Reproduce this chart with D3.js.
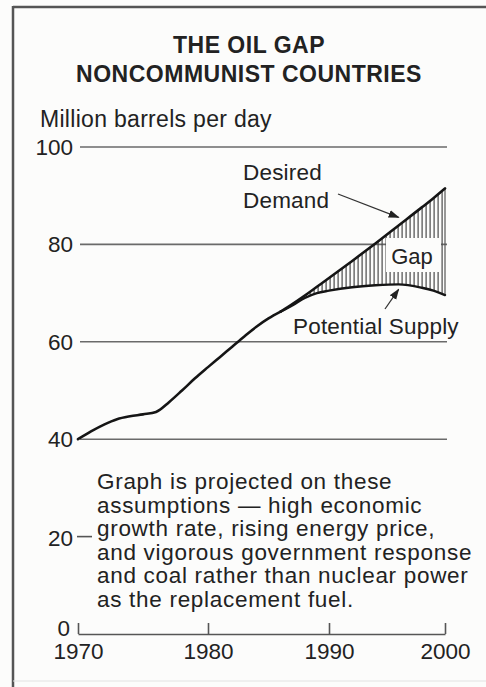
<!DOCTYPE html>
<html><head><meta charset="utf-8">
<script src="https://cdn.jsdelivr.net/npm/d3@7"></script>
<style>html,body{margin:0;padding:0;background:#fcfcfb;} svg{display:block;}</style>
</head><body><svg id="c" width="486" height="687"></svg>
<script>
// ---- data ----
const titleLines = ["THE OIL GAP", "NONCOMMUNIST COUNTRIES"];
const unitLabel = "Million barrels per day";
const yTicks = [0, 20, 40, 60, 80, 100];
const gridValues = [40, 60, 80, 100];
const xTicks = [1970, 1980, 1990, 2000];
const baseYears  = [1970,1971,1972,1973,1974,1975,1976,1977,1978,1979,1980,1981,1982,1983,1984,1985,1986];
const baseValues = [40.0,41.6,43.0,44.1,44.7,45.1,45.6,47.6,50.0,52.5,54.8,56.9,59.0,61.1,63.1,64.8,66.2];
const projYears    = [1986,1987,1988,1989,1990,1992,1994,1996,1998,1999,2000];
const demandValues = [66.2,67.8,69.5,71.3,73.1,76.6,80.2,83.9,87.6,89.5,91.5];
const supplyValues = [66.2,67.5,69.0,70.0,70.5,71.2,71.6,71.8,71.1,70.5,69.6];
const demandLabel = ["Desired", "Demand"];
const supplyLabel = "Potential Supply";
const gapLabel = "Gap";
const noteLines = [
  "Graph is projected on these",
  "assumptions \u2014 high economic",
  "growth rate, rising energy price,",
  "and vigorous government response",
  "and coal rather than nuclear power",
  "as the replacement fuel."
];

// ---- drawing ----
const svg = d3.select("#c");
const FONT = "'Liberation Sans', Arial, Helvetica, sans-serif";
const INK = "#222";
const x = d3.scaleLinear().domain([1970, 1980, 1990, 2000]).range([78, 208, 329, 445]);
const y = d3.scaleLinear().domain([0, 100]).range([634, 147]);

// frame
svg.append("line").attr("x1", 13).attr("x2", 486).attr("y1", 7).attr("y2", 7)
  .attr("stroke", "#555").attr("stroke-width", 2.5);
svg.append("line").attr("x1", 13).attr("x2", 13).attr("y1", 6).attr("y2", 687)
  .attr("stroke", "#555").attr("stroke-width", 2.5);
svg.append("line").attr("x1", 13).attr("x2", 486).attr("y1", 681).attr("y2", 681)
  .attr("stroke", "#e2e2e2").attr("stroke-width", 1);

// title
svg.append("g").selectAll("text").data(titleLines).join("text")
  .attr("x", 249).attr("y", (d, i) => 53 + i * 29)
  .attr("text-anchor", "middle")
  .attr("font-family", FONT).attr("font-weight", "bold").attr("font-size", 23)
  .attr("letter-spacing", 0.5).attr("fill", INK).text(d => d);

svg.append("text").attr("x", 40).attr("y", 127)
  .attr("font-family", FONT).attr("font-size", 23).attr("letter-spacing", 0.3)
  .attr("fill", INK).text(unitLabel);

// grid lines
svg.append("g").selectAll("line").data(gridValues).join("line")
  .attr("x1", x(1970) + 2).attr("x2", x(2000) + 2)
  .attr("y1", d => y(d)).attr("y2", d => y(d))
  .attr("stroke", "#6a6a6a").attr("stroke-width", 1.6);

// 20 dash
svg.append("line").attr("x1", x(1970) - 1).attr("x2", x(1970) + 14)
  .attr("y1", y(20)).attr("y2", y(20)).attr("stroke", "#555").attr("stroke-width", 1.6);

// y labels
svg.append("g").selectAll("text").data(yTicks).join("text")
  .attr("x", d => d === 0 ? 70 : 73)
  .attr("y", d => d === 0 ? y(d) - 6 : y(d) + (d === 20 ? 2 : 0))
  .attr("dy", "0.35em").attr("text-anchor", "end")
  .attr("font-family", FONT).attr("font-size", 22.5).attr("fill", INK).text(d => d);

// x axis
const xAxis = d3.axisBottom(x).tickValues(xTicks).tickFormat(d3.format("d"))
  .tickSize(-11).tickSizeOuter(0).tickPadding(9);
const gx = svg.append("g").attr("transform", `translate(0,${y(0)})`).call(xAxis);
gx.select(".domain").attr("stroke", "#555").attr("stroke-width", 1.6);
gx.selectAll(".tick line").attr("stroke", "#555").attr("stroke-width", 1.6);
gx.selectAll(".tick text").attr("font-family", FONT).attr("font-size", 22.5)
  .attr("fill", INK);

// hatched gap
const defs = svg.append("defs");
const pat = defs.append("pattern").attr("id", "hatch").attr("patternUnits", "userSpaceOnUse")
  .attr("width", 4).attr("height", 10);
pat.append("rect").attr("x", 1.5).attr("y", 0).attr("width", 1.2).attr("height", 10).attr("fill", "#4a4a4a");

const proj = projYears.map((yr, i) => ({ yr, d: demandValues[i], s: supplyValues[i] }));
const area = d3.area().x(p => x(p.yr)).y0(p => y(p.s)).y1(p => y(p.d)).curve(d3.curveMonotoneX);
svg.append("path").datum(proj).attr("d", area).attr("fill", "url(#hatch)");
const last = proj[proj.length - 1];
svg.append("line").attr("x1", x(last.yr)).attr("x2", x(last.yr))
  .attr("y1", y(last.d)).attr("y2", y(last.s)).attr("stroke", "#555").attr("stroke-width", 1.2);

// gap label with blank box
svg.append("rect").attr("x", 386).attr("y", 238).attr("width", 55).attr("height", 34)
  .attr("fill", "#fcfcfb");
svg.append("text").attr("x", 412).attr("y", 264).attr("text-anchor", "middle")
  .attr("font-family", FONT).attr("font-size", 22).attr("fill", INK).text(gapLabel);

// lines
const lineGen = d3.line().x(p => x(p[0])).y(p => y(p[1])).curve(d3.curveMonotoneX);
const base = baseYears.map((yr, i) => [yr, baseValues[i]]);
const demand = projYears.map((yr, i) => [yr, demandValues[i]]);
const supply = projYears.map((yr, i) => [yr, supplyValues[i]]);
[base, demand, supply].forEach((s, k) => {
  svg.append("path").datum(s).attr("d", lineGen).attr("fill", "none")
    .attr("stroke", "#151515").attr("stroke-width", k === 2 ? 2.4 : 2.6)
    .attr("stroke-linejoin", "round").attr("stroke-linecap", "round");
});

// arrows
defs.append("marker").attr("id", "ah").attr("viewBox", "0 0 10 10")
  .attr("refX", 9).attr("refY", 5).attr("markerWidth", 11).attr("markerHeight", 11)
  .attr("markerUnits", "userSpaceOnUse").attr("orient", "auto")
  .append("path").attr("d", "M0,1.5 L10,5 L0,8.5 Z").attr("fill", "#222");

svg.append("g").selectAll("text").data(demandLabel).join("text")
  .attr("x", 243).attr("y", (d, i) => 180 + i * 28)
  .attr("font-family", FONT).attr("font-size", 22.5).attr("letter-spacing", 0.2)
  .attr("fill", INK).text(d => d);
svg.append("line").attr("x1", 338).attr("y1", 194)
  .attr("x2", x(1996)).attr("y2", y(83.9) - 8)
  .attr("stroke", "#333").attr("stroke-width", 1.3).attr("marker-end", "url(#ah)");

svg.append("text").attr("x", 293).attr("y", 334)
  .attr("font-family", FONT).attr("font-size", 22.5).attr("letter-spacing", 0.2)
  .attr("fill", INK).text(supplyLabel);
svg.append("line").attr("x1", 385).attr("y1", 309)
  .attr("x2", x(1996)).attr("y2", y(71.8) + 5)
  .attr("stroke", "#333").attr("stroke-width", 1.3).attr("marker-end", "url(#ah)");

// note
svg.append("g").selectAll("text").data(noteLines).join("text")
  .attr("x", 97).attr("y", (d, i) => 489 + i * 23.6)
  .attr("font-family", FONT).attr("font-size", 22.5).attr("letter-spacing", 0.7)
  .attr("fill", INK).text(d => d);
</script></body></html>
